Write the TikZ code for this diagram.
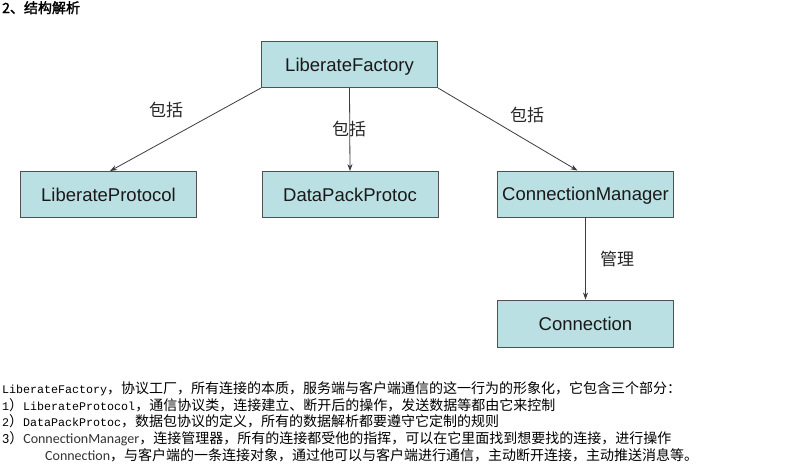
\documentclass[tikz,border=0pt]{standalone}
\usepackage{fontspec}
\usetikzlibrary{arrows.meta,calc}
\setmainfont{Liberation Sans}
\newfontfamily\cjk{Noto Sans CJK SC}
\newfontfamily\cjkbold{Noto Sans CJK SC}[FakeBold=2]
\newfontfamily\monof{Liberation Mono}
\newfontfamily\carl{Carlito}
\definecolor{boxfill}{RGB}{187,224,227}
\definecolor{boxline}{RGB}{80,80,80}
\definecolor{conn}{RGB}{60,60,60}
\begin{document}
\begin{tikzpicture}[x=1pt,y=-1pt,
  cls/.style={draw=boxline,line width=0.9pt,fill=boxfill,rectangle,
    minimum width=176pt,minimum height=46pt,inner sep=0pt,
    text height=16pt,text depth=2.8pt,
    font=\fontsize{18.5}{20}\selectfont,text=black!90},
  link/.style={draw=conn,line width=0.8pt,-{Stealth[length=7pt,width=5pt]}},
  lbl/.style={font=\cjk\fontsize{17}{19}\selectfont,text=black!85,inner sep=0pt},
  txt/.style={anchor=base west,inner sep=0pt,font=\fontsize{14}{16}\selectfont}]
\useasboundingbox (0,0) rectangle (785,464);
\fill[white] (0,0) rectangle (785,464);

\node[anchor=base west,inner sep=0pt,font=\cjkbold\fontsize{14}{16}\selectfont] (title) at (2,13) {2、结构解析};

\node[cls] (lf) at (349.5,64.5) {LiberateFactory};
\node[cls] (lp) at (108.5,194.5) {LiberateProtocol};
\node[cls] (dp) at (350,194.5) {DataPackProtoc};
\node[cls] (cm) at (585.5,194) {ConnectionManager};
\node[cls,minimum height=47pt] (cn) at (585.5,323.5) {Connection};

\coordinate (cmin) at ($(cm.north)+(-8,0)$);
\coordinate (lpin) at ($(lp.north)+(1.5,0)$);
\draw[link] (lf.south west) -- (lpin);
\draw[link] (lf.south) -- (dp.north);
\draw[link] (lf.south east) -- (cmin);
\draw[link] (cm.south) -- (cn.north);

\node[lbl] (l1) at (166,110) {包括};
\node[lbl] (l2) at (349,129) {包括};
\node[lbl] (l3) at (527,115) {包括};
\node[lbl] (l4) at (617,259) {管理};

\node[txt] (t1) at (2,393) {{\fontsize{11.67}{16}\monof LiberateFactory}{\cjk ，协议工厂，所有连接的本质，服务端与客户端通信的这一行为的形象化，它包含三个部分：}};
\node[txt] (t2) at (2,410) {{\fontsize{11.67}{16}\monof 1}{\cjk ）}{\fontsize{11.67}{16}\monof LiberateProtocol}{\cjk ，通信协议类，连接建立、断开后的操作，发送数据等都由它来控制}};
\node[txt] (t3) at (2,426) {{\fontsize{11.67}{16}\monof 2}{\cjk ）}{\fontsize{11.67}{16}\monof DataPackProtoc}{\cjk ，数据包协议的定义，所有的数据解析都要遵守它定制的规则}};
\node[txt] (t4) at (2,443) {{\carl 3}{\cjk ）}{\carl\color{black!80}ConnectionManager}{\cjk ，连接管理器，所有的连接都受他的指挥，可以在它里面找到想要找的连接，进行操作}};
\node[txt] (t5) at (45,460) {{\carl\color{black!80}Connection}{\cjk ，与客户端的一条连接对象，通过他可以与客户端进行通信，主动断开连接，主动推送消息等。}};
\end{tikzpicture}
\end{document}
